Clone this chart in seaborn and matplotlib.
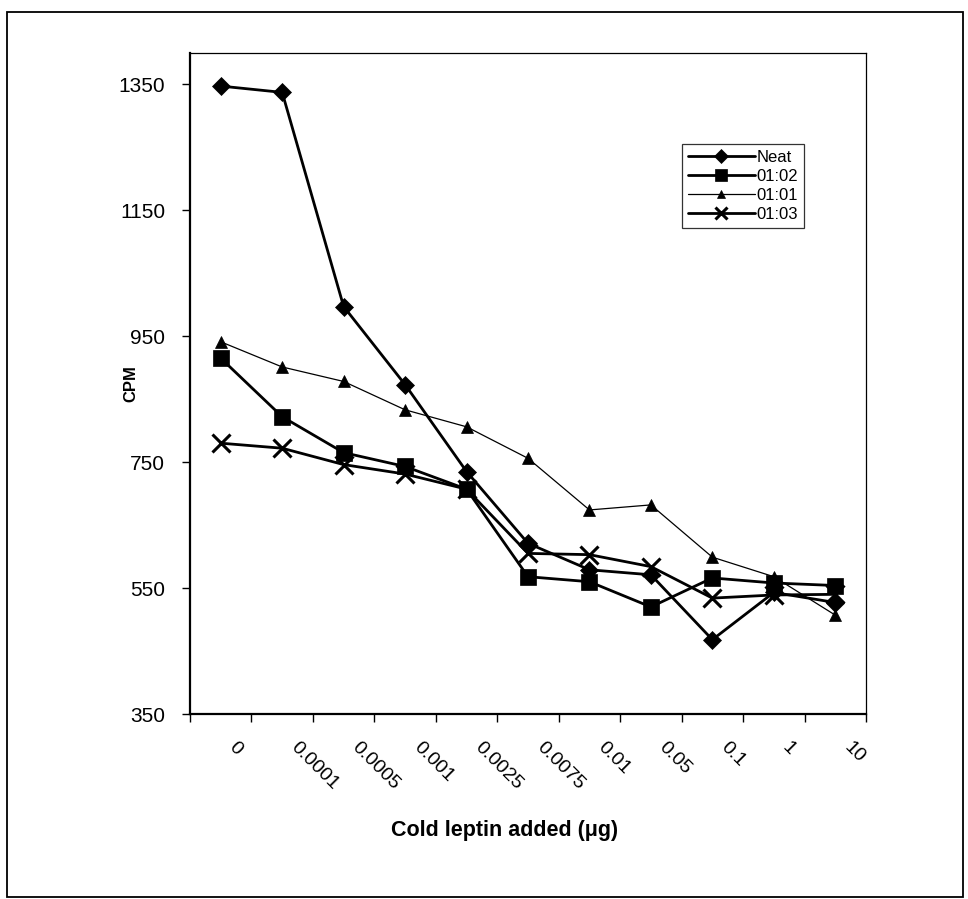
import numpy as np
import pandas as pd
import seaborn as sns
import matplotlib.pyplot as plt
import matplotlib.patches as patches
import matplotlib.transforms as transforms

doses = ['0', '0.0001', '0.0005', '0.001', '0.0025', '0.0075', '0.01', '0.05', '0.1', '1', '10']
neat = [1347, 1337, 997, 873, 735, 621, 579, 571, 468, 543, 527]
dil_1_2 = [915, 822, 765, 743, 707, 568, 560, 520, 566, 558, 554]
dil_1_1 = [941, 901, 878, 833, 806, 756, 674, 682, 599, 568, 507]
dil_1_3 = [780, 772, 746, 731, 707, 605, 603, 584, 534, 539, 540]

series = ['Neat', '01:02', '01:01', '01:03']
values = [neat, dil_1_2, dil_1_1, dil_1_3]
markers = ['D', 's', '^', 'x']
msizes = [9.5, 11.5, 9, 13]
widths = [2.0, 2.0, 0.9, 2.0]

df = pd.DataFrame({'dose': doses * len(series),
                   'cpm': np.concatenate(values),
                   'series': np.repeat(series, len(doses))})

sns.set_theme(style='white')
plt.rcParams['font.family'] = ['Liberation Sans', 'DejaVu Sans']
for key in ['text.color', 'axes.labelcolor', 'xtick.color', 'ytick.color', 'axes.edgecolor']:
    plt.rcParams[key] = 'black'

fig = plt.figure(figsize=(9.68, 8.99), dpi=100)
ax = fig.add_axes([190 / 968, 1 - 714 / 899, 676 / 968, (714 - 52.7) / 899])

for name, mk, ms, lw in zip(series, markers, msizes, widths):
    sns.lineplot(data=df[df['series'] == name], x='dose', y='cpm', ax=ax, sort=False,
                 color='black', lw=lw, marker=mk, markersize=ms,
                 markeredgewidth=2.2 if mk == 'x' else 0.5,
                 markeredgecolor='black', label=name)

ax.set_xlim(-0.5, len(doses) - 0.5)
ax.set_ylim(350, 1400)
ax.set_yticks([350, 550, 750, 950, 1150, 1350])
ax.set_xticks(np.arange(len(doses)))
ax.set_xticklabels(doses, rotation=-45, ha='left', va='center', rotation_mode='anchor', fontsize=14)
ax.set_xticks(np.arange(len(doses) + 1) - 0.5, minor=True)
ax.tick_params(axis='x', which='major', length=0, pad=22)
ax.tick_params(axis='x', which='minor', direction='out', length=6, width=1, color='black', bottom=True)
ax.tick_params(axis='y', direction='out', length=6, width=1, color='black', left=True, pad=12, labelsize=15)

offset = transforms.ScaledTranslation(0.11, 0, fig.dpi_scale_trans)
for lab in ax.get_xticklabels():
    lab.set_transform(lab.get_transform() + offset)

for side in ['left', 'bottom']:
    ax.spines[side].set_linewidth(1.6)
for side in ['top', 'right']:
    ax.spines[side].set_linewidth(0.9)

ax.set_xlabel('Cold leptin added (\u03bcg)', fontsize=15.5, fontweight='bold')
ax.set_ylabel('CPM', fontsize=12, fontweight='bold')
ax.xaxis.set_label_coords((505 - 190) / 676, (714 - 820) / 661.3)
ax.yaxis.set_label_coords((138 - 190) / 676, 0.5)

leg = ax.legend(loc='upper left', bbox_to_anchor=((682 - 190) / 676, (714 - 144) / 661.3),
                borderaxespad=0, frameon=True, fancybox=False, edgecolor='black',
                fontsize=12, handlelength=4.0, handletextpad=0.1, labelspacing=0.25,
                markerscale=0.7, borderpad=0.35)
leg.get_frame().set_linewidth(0.9)

fig.patches.append(patches.Rectangle((7 / 968, 1 - 897 / 899), (963 - 7) / 968, (897 - 12) / 899,
                                     transform=fig.transFigure, fill=False, lw=1.3, edgecolor='black'))

fig.savefig('out.png', dpi=100)
